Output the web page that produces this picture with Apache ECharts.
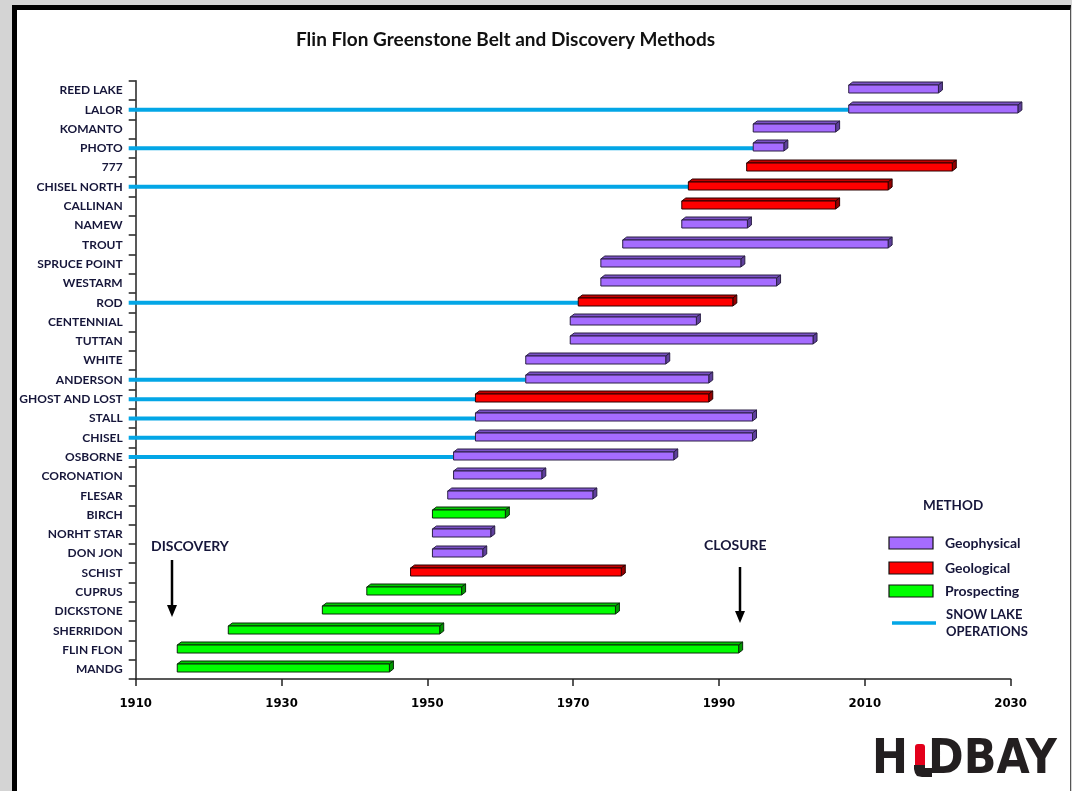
<!DOCTYPE html>
<html>
<head>
<meta charset="utf-8">
<script src="https://cdn.jsdelivr.net/npm/echarts@6/dist/echarts.min.js"></script>
<style>
  html, body { margin: 0; padding: 0; }
  #outer { position: relative; width: 1072px; height: 791px; background: #d4d4d4; overflow: hidden; }
  #paper { position: absolute; left: 12px; top: 5px; width: 1053px; height: 800px; background: #ffffff;
           border-left: 5px solid #000; border-top: 5px solid #000; border-right: 1px solid #555; }
  #chart { position: absolute; left: 0; top: 0; width: 1072px; height: 791px; }
</style>
</head>
<body>
<div id="outer"><div id="paper"></div><div id="chart"></div></div>
<script>
// ---- data ----
const categories = ['REED LAKE','LALOR','KOMANTO','PHOTO','777','CHISEL NORTH','CALLINAN','NAMEW','TROUT',
  'SPRUCE POINT','WESTARM','ROD','CENTENNIAL','TUTTAN','WHITE','ANDERSON','GHOST AND LOST','STALL','CHISEL',
  'OSBORNE','CORONATION','FLESAR','BIRCH','NORHT STAR','DON JON','SCHIST','CUPRUS','DICKSTONE','SHERRIDON',
  'FLIN FLON','MANDG'];
const startYear = [2007.8,2007.8,1994.7,1994.7,1993.8,1985.8,1984.9,1984.9,1976.8,
  1973.8,1973.8,1970.7,1969.6,1969.6,1963.5,1963.5,1956.6,1956.6,1956.6,
  1953.6,1953.6,1952.8,1950.7,1950.7,1950.7,1947.7,1941.7,1935.6,1922.7,
  1915.7,1915.7];
const endYear = [2020.1,2031.0,2006.0,1998.9,2022.0,2013.2,2006.0,1993.9,2013.2,
  1993.0,1997.9,1991.9,1986.9,2002.9,1982.7,1988.6,1988.6,1994.6,1994.6,
  1983.8,1965.7,1972.7,1960.7,1958.7,1957.6,1976.6,1954.7,1975.8,1951.7,
  1992.7,1944.8];
const method = ['Geophysical','Geophysical','Geophysical','Geophysical','Geological','Geological','Geological','Geophysical','Geophysical',
  'Geophysical','Geophysical','Geological','Geophysical','Geophysical','Geophysical','Geophysical','Geological','Geophysical','Geophysical',
  'Geophysical','Geophysical','Geophysical','Prospecting','Geophysical','Geophysical','Geological','Prospecting','Prospecting','Prospecting',
  'Prospecting','Prospecting'];
const snowLake = ['LALOR','PHOTO','CHISEL NORTH','ROD','ANDERSON','GHOST AND LOST','STALL','CHISEL','OSBORNE'];
const methods = ['Geophysical','Geological','Prospecting'];
const xTicks = { min: 1910, max: 2030, interval: 20 };

// ---- styles ----
const PALETTE = {
  Geophysical: { face: '#a56cff', top: '#7b52c6', side: '#5f3f9c', stroke: '#2a1f45' },
  Geological:  { face: '#ff0000', top: '#c40000', side: '#960000', stroke: '#2a0000' },
  Prospecting: { face: '#00ff00', top: '#00c800', side: '#009a00', stroke: '#0a2a0a' }
};
const SNOW = '#03a6e6';
const LABEL_FONT = 'Lato, "Open Sans", sans-serif';
const TXT = '#16163a';

const barData = categories.map((c, i) => [startYear[i], endYear[i], i, methods.indexOf(method[i])]);
const lineData = categories.map((c, i) => snowLake.indexOf(c) >= 0 ? [startYear[i], i] : null).filter(d => d);

const chart = echarts.init(document.getElementById('chart'), null, { renderer: 'canvas' });

function renderBar(params, api) {
  const idx = api.value(2);
  const s = api.coord([api.value(0), idx]);
  const e = api.coord([api.value(1), idx]);
  const c = PALETTE[methods[api.value(3)]];
  const top = Math.round(s[1]) - 5, bot = Math.round(s[1]) + 3;
  const x0 = s[0], x1 = e[0], dx = 4, dy = 3;
  return {
    type: 'group',
    children: [
      { type: 'polygon', shape: { points: [[x0, top], [x0 + dx, top - dy], [x1 + dx, top - dy], [x1, top]] },
        style: { fill: c.top, stroke: c.stroke, lineWidth: 1 } },
      { type: 'polygon', shape: { points: [[x1, top], [x1 + dx, top - dy], [x1 + dx, bot - dy], [x1, bot]] },
        style: { fill: c.side, stroke: c.stroke, lineWidth: 1 } },
      { type: 'rect', shape: { x: x0, y: top, width: x1 - x0, height: bot - top },
        style: { fill: c.face, stroke: c.stroke, lineWidth: 1 } }
    ]
  };
}

function renderSnow(params, api) {
  const idx = api.value(1);
  const a = api.coord([xTicks.min, idx]);
  const b = api.coord([api.value(0), idx]);
  return {
    type: 'line',
    shape: { x1: a[0] - 7, y1: a[1], x2: b[0], y2: b[1] },
    style: { stroke: SNOW, lineWidth: 4 }
  };
}

const legendY = [543, 568, 591];
const legendGraphics = [];
methods.forEach((m, i) => {
  legendGraphics.push({ type: 'rect', shape: { x: 889, y: legendY[i] - 6, width: 44, height: 12 },
    style: { fill: PALETTE[m].face, stroke: '#111', lineWidth: 1.2 } });
  legendGraphics.push({ type: 'text', x: 945, y: legendY[i],
    style: { text: m, font: 'bold 14px ' + LABEL_FONT, fill: TXT, verticalAlign: 'middle' } });
});

const LOGO_FONT = 'bold 43px "DejaVu Sans", "Liberation Sans", sans-serif';

const option = {
  animation: false,
  backgroundColor: 'transparent',
  title: {
    text: 'Flin Flon Greenstone Belt and Discovery Methods',
    left: 291, top: 25,
    textStyle: { fontFamily: LABEL_FONT, fontWeight: 'bold', fontSize: 19, color: '#111' }
  },
  grid: { left: 135.7, right: 61.4, top: 80.7, bottom: 112, containLabel: false },
  xAxis: {
    type: 'value', min: xTicks.min, max: xTicks.max, interval: xTicks.interval,
    axisLine: { show: true, lineStyle: { color: '#222', width: 1.5 } },
    axisTick: { show: true, length: 7, lineStyle: { color: '#222', width: 1.5 } },
    splitLine: { show: false },
    axisLabel: { margin: 18, color: '#000', fontWeight: 'bold', fontSize: 13,
      fontFamily: '"Liberation Sans Narrow", "DejaVu Sans Condensed", sans-serif',
      formatter: v => String(v) }
  },
  yAxis: {
    type: 'category', data: categories, inverse: true,
    axisLine: { show: true, lineStyle: { color: '#222', width: 1.5 } },
    axisTick: { show: true, length: 7, lineStyle: { color: '#222', width: 1.5 } },
    splitLine: { show: false },
    axisLabel: { margin: 13, color: TXT, fontWeight: 'bold', fontSize: 12, fontFamily: LABEL_FONT, interval: 0 }
  },
  series: [
    { type: 'custom', name: 'SNOW LAKE OPERATIONS', renderItem: renderSnow, data: lineData,
      encode: { x: 0, y: 1 }, clip: false, z: 3 },
    { type: 'custom', name: 'Mines', renderItem: renderBar, data: barData,
      encode: { x: [0, 1], y: 2 }, clip: false, z: 4 }
  ],
  graphic: [
    // annotations
    { type: 'text', x: 151, y: 546, style: { text: 'DISCOVERY', font: 'bold 14px ' + LABEL_FONT, fill: TXT, verticalAlign: 'middle' } },
    { type: 'line', shape: { x1: 172, y1: 560, x2: 172, y2: 606 }, style: { stroke: '#000', lineWidth: 2.5 } },
    { type: 'polygon', shape: { points: [[167, 605], [177, 605], [172, 617]] }, style: { fill: '#000' } },
    { type: 'text', x: 704, y: 545, style: { text: 'CLOSURE', font: 'bold 14px ' + LABEL_FONT, fill: TXT, verticalAlign: 'middle' } },
    { type: 'line', shape: { x1: 740, y1: 567, x2: 740, y2: 612 }, style: { stroke: '#000', lineWidth: 2.5 } },
    { type: 'polygon', shape: { points: [[735, 611], [745, 611], [740, 623]] }, style: { fill: '#000' } },
    // legend
    { type: 'text', x: 923, y: 506, style: { text: 'METHOD', font: 'bold 13.5px ' + LABEL_FONT, fill: TXT, verticalAlign: 'middle' } },
    ...legendGraphics,
    { type: 'line', shape: { x1: 892, y1: 623, x2: 936, y2: 623 }, style: { stroke: SNOW, lineWidth: 3.5 } },
    { type: 'text', x: 946, y: 615, style: { text: 'SNOW LAKE', font: 'bold 13px ' + LABEL_FONT, fill: TXT, verticalAlign: 'middle' } },
    { type: 'text', x: 946, y: 632, style: { text: 'OPERATIONS', font: 'bold 13px ' + LABEL_FONT, fill: TXT, verticalAlign: 'middle' } },
    // logo
    { type: 'text', x: 872, y: 760, scaleY: 1.12, originX: 0, originY: 0,
      style: { text: 'H', font: LOGO_FONT, fill: '#231f20', verticalAlign: 'middle' } },
    { type: 'rect', shape: { x: 915, y: 744, width: 10, height: 21, r: [3, 3, 0, 0] }, style: { fill: '#e3001b' } },
    { type: 'polygon', shape: { points: [[914, 765], [925, 765], [925, 768], [932, 768], [932, 777], [922, 777], [917, 776], [915, 773], [914, 769]] },
      style: { fill: '#231f20' } },
    { type: 'text', x: 928, y: 760, scaleY: 1.12, originX: 0, originY: 0,
      style: { text: 'DBAY', font: LOGO_FONT, fill: '#231f20', verticalAlign: 'middle' } }
  ]
};
chart.setOption(option);
</script>
</body>
</html>
